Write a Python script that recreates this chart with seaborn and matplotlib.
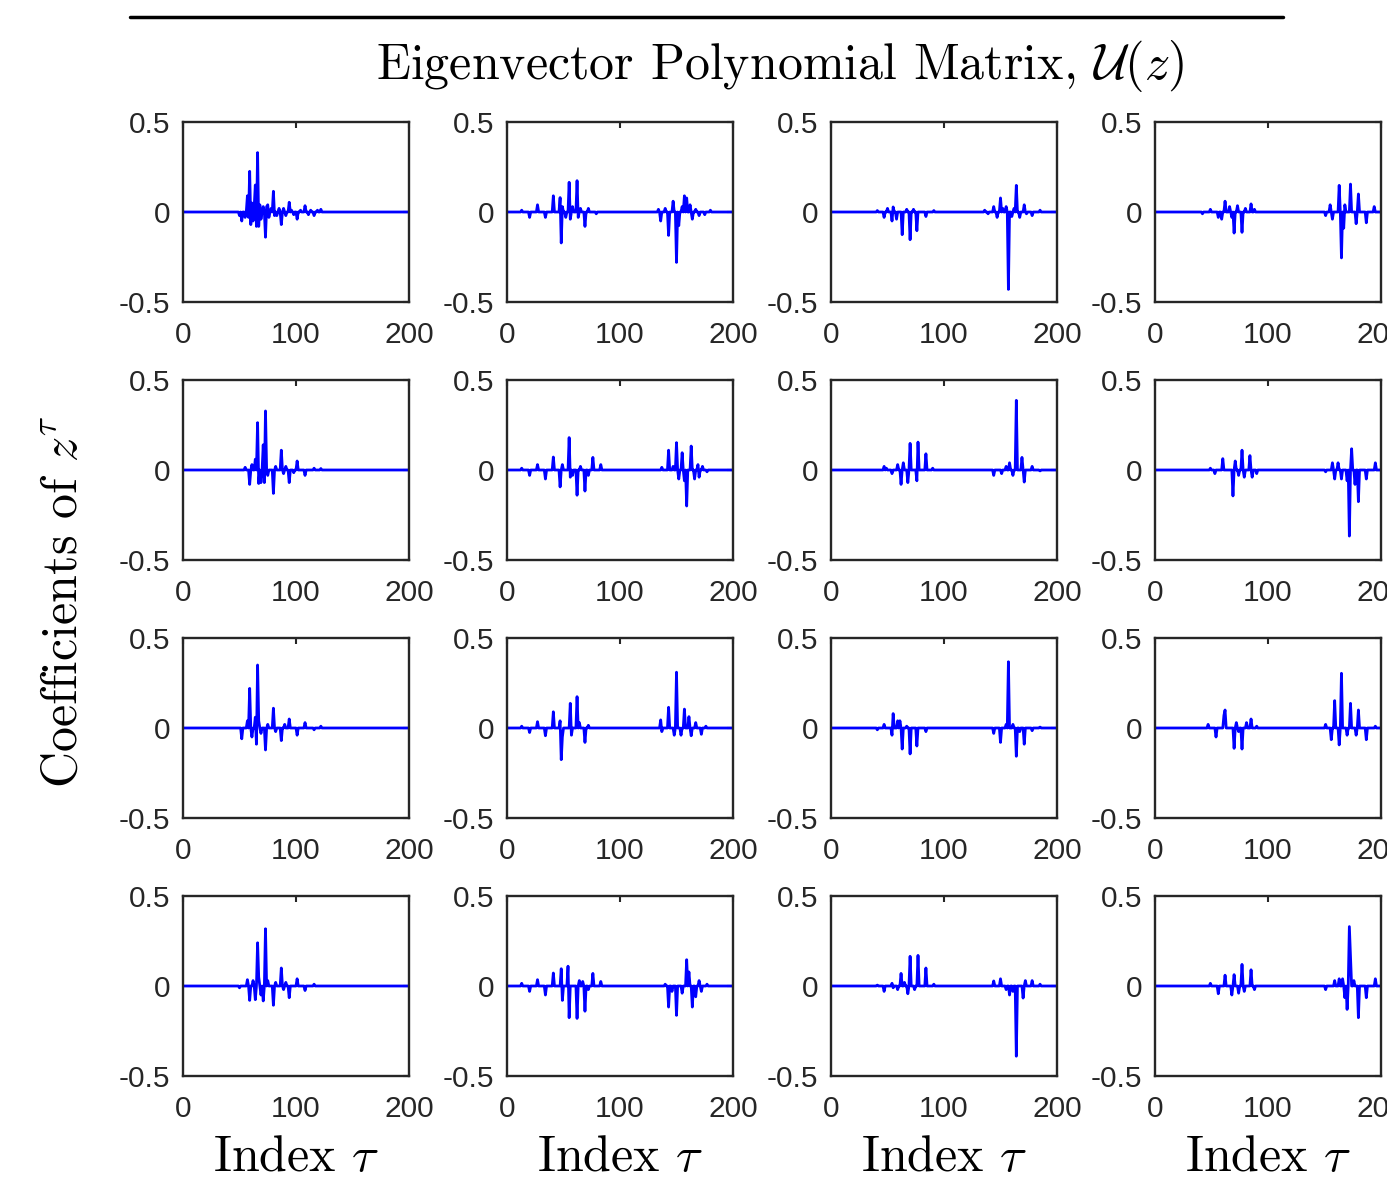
import numpy as np
import pandas as pd
import matplotlib
matplotlib.use("Agg")
import matplotlib.pyplot as plt
from matplotlib.lines import Line2D
import seaborn as sns

# Lag axis of every polynomial coefficient sequence
TAU_MAX = 200

# Non-zero coefficients of each entry u_{ij}[tau]; all other lags are zero.
U11_tau = [50, 52, 55, 57, 58, 59, 60, 61, 62, 63, 64, 65, 66, 67, 68, 69, 71, 73, 74, 75, 76, 78, 80, 81, 83, 85, 87, 89, 91, 94, 96, 98, 101, 104, 108, 111, 113, 116, 119, 122]
U11_val = [-0.02, -0.05, -0.03, 0.09, -0.03, 0.226, -0.07, 0.05, -0.05, 0.03, 0.15, -0.08, 0.33, -0.08, 0.04, -0.04, 0.03, -0.14, 0.03, 0.04, -0.03, 0.02, 0.115, -0.02, -0.02, 0.02, -0.07, 0.02, -0.02, 0.054, 0.01, -0.015, -0.04, 0.01, 0.035, -0.015, 0.01, -0.02, 0.01, 0.015]

U12_tau = [13, 20, 27, 34, 41, 47, 48, 49, 52, 55, 56, 58, 62, 63, 65, 69, 72, 79, 134, 136, 140, 143, 147, 150, 152, 155, 157, 159, 162, 164, 167, 170, 175, 180]
U12_val = [0.01, -0.03, 0.04, -0.03, 0.09, 0.08, -0.172, 0.03, -0.03, 0.165, -0.04, 0.03, 0.174, -0.03, 0.02, -0.08, 0.02, -0.01, 0.015, -0.05, 0.02, -0.13, 0.06, -0.28, -0.076, 0.03, 0.09, 0.078, 0.04, -0.04, 0.015, -0.02, -0.015, 0.01]

U13_tau = [41, 47, 50, 54, 55, 58, 63, 67, 70, 73, 76, 84, 91, 136, 139, 144, 147, 150, 152, 155, 157, 160, 162, 164, 167, 171, 173, 178, 185]
U13_val = [0.008, -0.03, 0.02, -0.05, 0.028, -0.04, -0.126, 0.015, -0.154, 0.015, -0.104, -0.025, 0.008, 0.01, -0.01, 0.03, -0.03, 0.078, 0.02, 0.03, -0.43, -0.025, 0.02, 0.148, -0.03, 0.04, -0.01, -0.02, 0.01]

U14_tau = [42, 49, 56, 59, 62, 66, 68, 70, 73, 77, 80, 85, 88, 151, 155, 157, 163, 165, 167, 168, 173, 178, 180, 187, 194]
U14_val = [-0.01, 0.015, -0.03, -0.04, 0.06, 0.03, -0.03, -0.117, 0.035, -0.113, 0.02, 0.045, 0.015, -0.02, 0.04, -0.04, 0.148, -0.255, -0.09, 0.04, 0.155, -0.065, 0.10, -0.06, 0.03]

U21_tau = [55, 59, 61, 64, 66, 67, 69, 71, 72, 73, 75, 80, 82, 87, 89, 91, 94, 98, 101, 108, 116, 122]
U21_val = [0.015, -0.08, 0.03, 0.06, 0.263, -0.075, -0.07, 0.14, -0.07, 0.328, -0.03, -0.13, 0.02, 0.11, -0.02, 0.02, -0.07, -0.015, 0.05, -0.03, 0.01, 0.008]

U22_tau = [13, 20, 27, 34, 41, 47, 49, 55, 56, 58, 62, 65, 69, 72, 76, 83, 137, 143, 147, 150, 152, 155, 157, 159, 163, 166, 169, 170, 173, 177]
U22_val = [0.01, -0.03, 0.03, -0.05, 0.072, -0.094, 0.03, 0.18, -0.04, -0.03, -0.14, 0.02, -0.117, -0.03, 0.07, 0.03, 0.015, 0.11, 0.02, 0.152, -0.05, 0.096, -0.06, -0.2, 0.133, -0.05, 0.03, -0.04, 0.02, -0.01]

U23_tau = [47, 49, 54, 59, 62, 64, 68, 70, 76, 77, 84, 90, 144, 151, 155, 158, 161, 164, 169, 171, 178, 185]
U23_val = [0.02, 0.01, -0.02, 0.03, -0.08, 0.04, -0.07, 0.148, -0.06, 0.155, 0.09, 0.01, -0.03, -0.02, 0.02, 0.04, -0.03, 0.387, 0.07, -0.067, 0.02, -0.005]

U24_tau = [49, 53, 60, 69, 71, 74, 77, 79, 84, 86, 90, 151, 157, 159, 162, 165, 170, 172, 174, 177, 180, 187, 195]
U24_val = [0.01, -0.02, 0.063, -0.144, 0.05, -0.03, 0.11, -0.04, 0.08, -0.04, -0.02, -0.01, 0.04, -0.05, 0.04, -0.05, -0.06, -0.367, 0.118, -0.08, -0.176, -0.05, 0.04]

U31_tau = [52, 57, 59, 61, 64, 65, 66, 67, 69, 73, 75, 80, 82, 87, 90, 94, 101, 108, 116, 122]
U31_val = [-0.06, 0.04, 0.22, -0.05, 0.06, -0.09, 0.35, 0.04, -0.03, -0.122, 0.02, 0.11, -0.02, -0.07, 0.02, 0.05, -0.04, 0.03, -0.01, 0.01]

U32_tau = [13, 20, 27, 34, 41, 47, 48, 49, 56, 57, 62, 64, 69, 72, 136, 137, 143, 148, 150, 154, 157, 161, 163, 167, 172, 176]
U32_val = [0.01, -0.025, 0.035, -0.043, 0.09, 0.04, -0.176, -0.05, 0.137, -0.04, 0.174, 0.03, -0.08, 0.015, 0.045, -0.02, 0.115, -0.04, 0.31, -0.04, 0.105, 0.063, -0.043, 0.03, -0.035, 0.01]

U33_tau = [41, 47, 54, 55, 59, 61, 63, 67, 70, 76, 84, 144, 150, 155, 157, 161, 164, 167, 171, 178, 185]
U33_val = [-0.01, 0.02, -0.04, 0.08, 0.04, 0.04, -0.117, 0.01, -0.144, -0.1, -0.02, -0.03, -0.08, 0.02, 0.368, 0.02, -0.157, -0.02, -0.09, -0.015, 0.005]

U34_tau = [47, 54, 61, 62, 70, 72, 74, 77, 81, 85, 90, 151, 156, 159, 163, 165, 170, 173, 178, 180, 187, 195]
U34_val = [0.02, -0.05, 0.07, 0.1, -0.113, 0.03, -0.02, -0.117, 0.03, 0.05, 0.01, 0.02, -0.065, 0.152, -0.094, 0.304, -0.04, 0.137, -0.04, 0.10, -0.065, 0.01]

U41_tau = [50, 57, 59, 62, 64, 66, 67, 69, 71, 73, 75, 80, 82, 87, 89, 91, 94, 101, 108, 116]
U41_val = [-0.01, 0.035, -0.08, 0.03, -0.076, 0.24, 0.05, -0.05, -0.083, 0.318, 0.03, -0.107, 0.02, 0.10, -0.02, 0.02, -0.065, 0.04, -0.025, 0.01]

U42_tau = [13, 20, 27, 34, 41, 48, 49, 54, 55, 62, 64, 67, 69, 72, 76, 83, 140, 143, 146, 150, 155, 159, 161, 164, 167, 170, 172, 177]
U42_val = [0.015, -0.03, 0.035, -0.05, 0.072, 0.096, -0.08, 0.11, -0.176, -0.18, 0.03, 0.025, -0.14, -0.02, 0.07, 0.025, 0.01, -0.117, -0.03, -0.163, -0.04, 0.146, 0.078, -0.117, -0.06, 0.03, -0.03, 0.01]

U43_tau = [41, 47, 54, 55, 59, 62, 65, 68, 70, 74, 77, 84, 91, 144, 150, 155, 158, 161, 164, 170, 172, 178, 185]
U43_val = [0.005, -0.03, 0.015, -0.01, -0.02, 0.07, 0.02, -0.043, 0.165, -0.02, 0.17, 0.10, 0.01, 0.028, 0.04, -0.02, -0.05, -0.03, -0.39, -0.067, 0.03, 0.03, 0.01]

U44_tau = [49, 56, 62, 68, 70, 74, 77, 79, 85, 88, 151, 159, 163, 166, 168, 170, 172, 173, 176, 180, 187, 195]
U44_val = [0.015, -0.043, 0.06, -0.05, 0.063, -0.04, 0.12, -0.03, 0.09, -0.02, -0.02, 0.03, 0.04, 0.04, -0.065, -0.13, 0.33, 0.17, 0.03, -0.176, -0.065, 0.04]

ENTRIES = [
    [(U11_tau, U11_val), (U12_tau, U12_val), (U13_tau, U13_val), (U14_tau, U14_val)],
    [(U21_tau, U21_val), (U22_tau, U22_val), (U23_tau, U23_val), (U24_tau, U24_val)],
    [(U31_tau, U31_val), (U32_tau, U32_val), (U33_tau, U33_val), (U34_tau, U34_val)],
    [(U41_tau, U41_val), (U42_tau, U42_val), (U43_tau, U43_val), (U44_tau, U44_val)],
]

X_TICKS = [0, 100, 200]
X_TICK_LABELS = ["0", "100", "200"]
Y_TICKS = [-0.5, 0.0, 0.5]
Y_TICK_LABELS = ["-0.5", "0", "0.5"]

TITLE = r"Eigenvector Polynomial Matrix, $\mathcal{U}(z)$"
Y_LABEL = r"Coefficients of $z^{\tau}$"
X_LABEL = r"Index $\tau$"


def coefficient_frame(taus, vals):
    lag = np.arange(0, TAU_MAX + 1)
    coef = np.zeros(lag.size)
    coef[np.asarray(taus)] = vals
    return pd.DataFrame({"tau": lag, "coef": coef})


sns.set_theme(style="white")
plt.rcParams["font.family"] = ["Liberation Sans", "DejaVu Sans"]
plt.rcParams["mathtext.fontset"] = "cm"
plt.rcParams["axes.unicode_minus"] = False

W, H = 1387, 1188
fig = plt.figure(figsize=(W / 100, H / 100), dpi=100)
fig.patch.set_facecolor("white")

col_left = [183, 507, 831, 1155]
row_top = [122, 380, 638, 896]
pw, ph = 226, 180
edge = "#262626"

for r in range(4):
    for c in range(4):
        ax = fig.add_axes([col_left[c] / W, 1 - (row_top[r] + ph) / H, pw / W, ph / H])
        taus, vals = ENTRIES[r][c]
        df = coefficient_frame(taus, vals)
        sns.lineplot(data=df, x="tau", y="coef", ax=ax, color="#0000FF",
                     linewidth=2.0, estimator=None, sort=True)
        ax.set_xlim(0, 200)
        ax.set_ylim(-0.5, 0.5)
        ax.set_xticks(X_TICKS)
        ax.set_xticklabels(X_TICK_LABELS)
        ax.set_yticks(Y_TICKS)
        ax.set_yticklabels(Y_TICK_LABELS)
        ax.set_xlabel("")
        ax.set_ylabel("")
        ax.tick_params(direction="in", length=4, width=1.5, colors=edge,
                       labelsize=21.5, top=True, right=True, labelcolor="#262626")
        ax.tick_params(axis="x", pad=14)
        ax.tick_params(axis="y", pad=9)
        for sp in ax.spines.values():
            sp.set_visible(True)
            sp.set_color(edge)
            sp.set_linewidth(1.7)
        ax.set_facecolor("white")

# rule under the heading above the grid
fig.add_artist(Line2D([130 / W, 1283 / W], [1 - 17 / H, 1 - 17 / H],
                      color="black", linewidth=2.5, transform=fig.transFigure))

serif = ["cmr10", "DejaVu Serif"]
fig.text(780 / W, 1 - 66 / H, TITLE, ha="center", va="center",
         fontsize=36, family=serif, color="black")
fig.text(64 / W, 1 - 602 / H, Y_LABEL, ha="center", va="center",
         rotation=90, fontsize=36, family=serif, color="black")
for c in range(4):
    fig.text((col_left[c] + pw / 2) / W, 1 - 1158 / H, X_LABEL, ha="center",
             va="center", fontsize=36, family=serif, color="black")

fig.savefig("out.png", dpi=100, facecolor="white")
